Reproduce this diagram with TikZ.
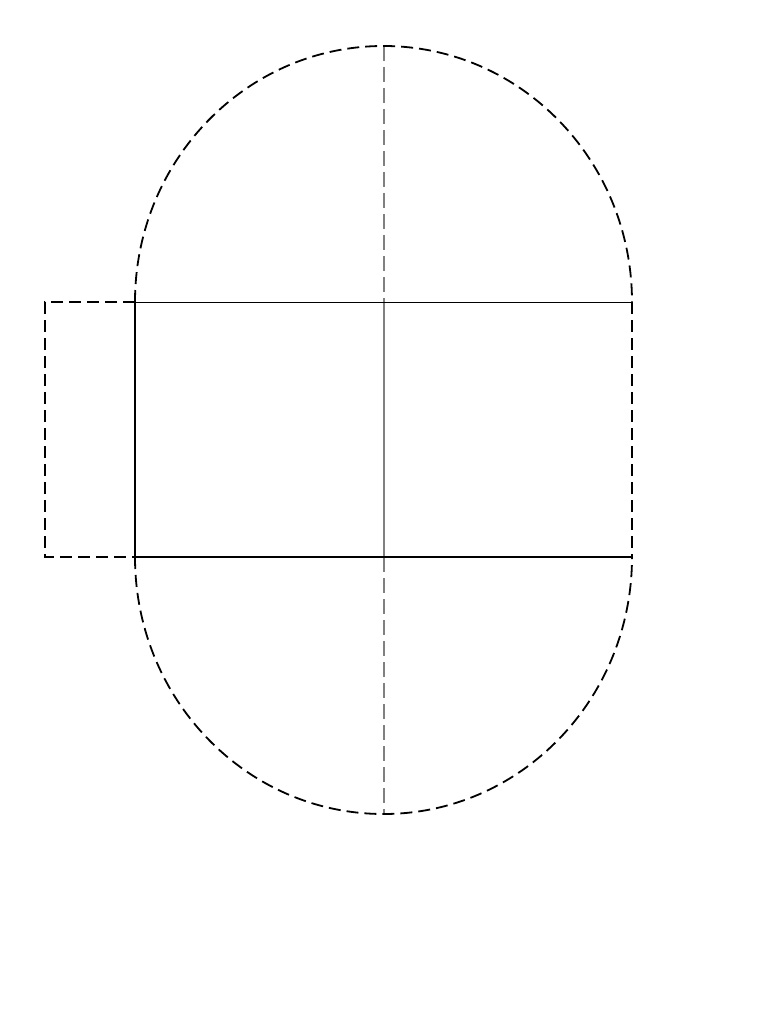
\documentclass[tikz,border=0pt]{standalone}
\begin{document}
\begin{tikzpicture}[x=1pt,y=-1pt,
  dsh/.style={draw=black,line width=1.8pt,dash pattern=on 12pt off 6pt},
  thick1/.style={draw=black,line width=1.8pt},
  thin1/.style={draw=black,line width=1pt},
  axis/.style={draw=gray,line width=1.4pt},
  axisd/.style={draw=gray,line width=1.4pt,dash pattern=on 15pt off 6pt}]
\useasboundingbox (0,0) rectangle (768,1024);
\coordinate (tl) at (135,302);
\coordinate (tr) at (632,302);
\coordinate (bl) at (135,557);
\coordinate (br) at (632,557);
\coordinate (ct) at (384,46);
\coordinate (cm1) at (384,302);
\coordinate (cm2) at (384,557);
\coordinate (cb) at (384,814);
\coordinate (ltl) at (45,302);
\coordinate (lbl) at (45,557);
% axis
\draw[axisd] (ct) -- (cm1);
\draw[axis] (cm1) -- (cm2);
\draw[axisd] (cm2) -- (cb);
% arcs
\draw[dsh] (tl) arc[start angle=180,end angle=360,x radius=248.5,y radius=256];
\draw[dsh] (bl) arc[start angle=180,end angle=0,x radius=248.5,y radius=257];
% rectangle
\draw[thin1] (tl) -- (tr);
\draw[thick1] (bl) -- (br);
\draw[thick1] (tl) -- (bl);
\draw[dsh] (tr) -- (br);
% left flap
\draw[dsh] (tl) -- (ltl) -- (lbl) -- (bl);
\end{tikzpicture}
\end{document}
